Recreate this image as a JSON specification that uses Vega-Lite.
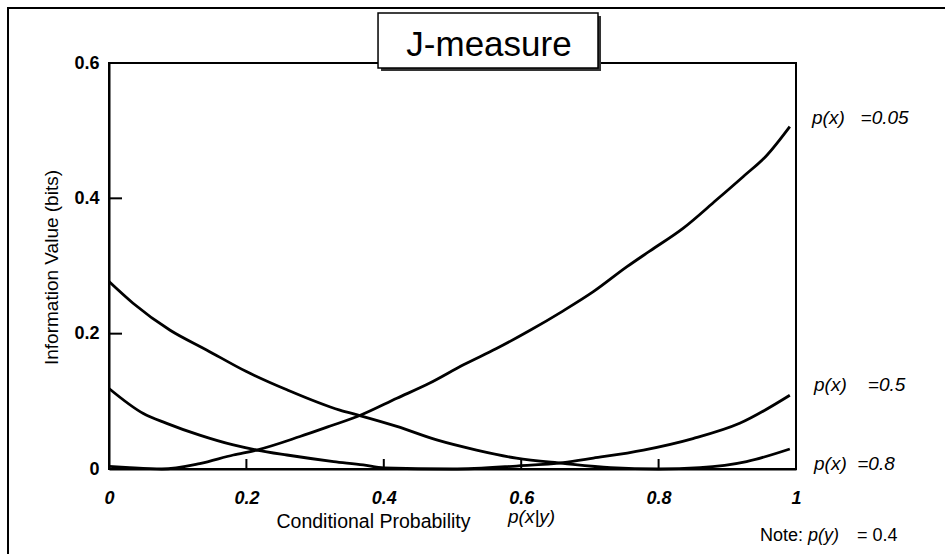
{
  "$schema": "https://vega.github.io/schema/vega-lite/v6.json",
  "width": 687,
  "height": 406,
  "autosize": {"type": "none"},
  "padding": {"left": 109, "top": 63, "right": 149, "bottom": 85},
  "background": "white",
  "config": {
    "view": {"stroke": "black", "strokeWidth": 2},
    "font": "Liberation Sans"
  },
  "datasets": {
    "curves": [
      {"px": "0.8", "pxy": 0, "j": 0.277},
      {"px": "0.8", "pxy": 0.035, "j": 0.245},
      {"px": "0.8", "pxy": 0.089, "j": 0.205},
      {"px": "0.8", "pxy": 0.142, "j": 0.176},
      {"px": "0.8", "pxy": 0.2, "j": 0.144},
      {"px": "0.8", "pxy": 0.259, "j": 0.117},
      {"px": "0.8", "pxy": 0.336, "j": 0.087},
      {"px": "0.8", "pxy": 0.365, "j": 0.079},
      {"px": "0.8", "pxy": 0.419, "j": 0.063},
      {"px": "0.8", "pxy": 0.477, "j": 0.043},
      {"px": "0.8", "pxy": 0.535, "j": 0.028},
      {"px": "0.8", "pxy": 0.593, "j": 0.016},
      {"px": "0.8", "pxy": 0.661, "j": 0.0084},
      {"px": "0.8", "pxy": 0.73, "j": 0.002},
      {"px": "0.8", "pxy": 0.8, "j": 0.0},
      {"px": "0.8", "pxy": 0.86, "j": 0.002},
      {"px": "0.8", "pxy": 0.928, "j": 0.011},
      {"px": "0.8", "pxy": 0.991, "j": 0.0296},
      {"px": "0.5", "pxy": 0, "j": 0.119},
      {"px": "0.5", "pxy": 0.05, "j": 0.082},
      {"px": "0.5", "pxy": 0.084, "j": 0.0675},
      {"px": "0.5", "pxy": 0.132, "j": 0.05},
      {"px": "0.5", "pxy": 0.181, "j": 0.0355},
      {"px": "0.5", "pxy": 0.215, "j": 0.028},
      {"px": "0.5", "pxy": 0.259, "j": 0.0207},
      {"px": "0.5", "pxy": 0.327, "j": 0.011},
      {"px": "0.5", "pxy": 0.37, "j": 0.006},
      {"px": "0.5", "pxy": 0.4, "j": 0.0015},
      {"px": "0.5", "pxy": 0.5, "j": 0.0},
      {"px": "0.5", "pxy": 0.593, "j": 0.0044},
      {"px": "0.5", "pxy": 0.661, "j": 0.0094},
      {"px": "0.5", "pxy": 0.705, "j": 0.016},
      {"px": "0.5", "pxy": 0.778, "j": 0.028},
      {"px": "0.5", "pxy": 0.85, "j": 0.045},
      {"px": "0.5", "pxy": 0.918, "j": 0.0675},
      {"px": "0.5", "pxy": 0.991, "j": 0.109},
      {"px": "0.05", "pxy": 0, "j": 0.004},
      {"px": "0.05", "pxy": 0.03, "j": 0.002},
      {"px": "0.05", "pxy": 0.077, "j": 0.0},
      {"px": "0.05", "pxy": 0.132, "j": 0.008},
      {"px": "0.05", "pxy": 0.181, "j": 0.0207},
      {"px": "0.05", "pxy": 0.215, "j": 0.028},
      {"px": "0.05", "pxy": 0.278, "j": 0.048},
      {"px": "0.05", "pxy": 0.322, "j": 0.0635},
      {"px": "0.05", "pxy": 0.365, "j": 0.079},
      {"px": "0.05", "pxy": 0.419, "j": 0.1045},
      {"px": "0.05", "pxy": 0.467, "j": 0.127},
      {"px": "0.05", "pxy": 0.516, "j": 0.154},
      {"px": "0.05", "pxy": 0.564, "j": 0.178},
      {"px": "0.05", "pxy": 0.613, "j": 0.205},
      {"px": "0.05", "pxy": 0.66, "j": 0.233},
      {"px": "0.05", "pxy": 0.705, "j": 0.262},
      {"px": "0.05", "pxy": 0.754, "j": 0.299},
      {"px": "0.05", "pxy": 0.787, "j": 0.322},
      {"px": "0.05", "pxy": 0.836, "j": 0.356},
      {"px": "0.05", "pxy": 0.884, "j": 0.3975},
      {"px": "0.05", "pxy": 0.923, "j": 0.432},
      {"px": "0.05", "pxy": 0.957, "j": 0.463},
      {"px": "0.05", "pxy": 0.991, "j": 0.506}
    ]
  },
  "layer": [
    {
      "data": {"values": [{}]},
      "mark": {"type": "rect", "fill": null, "stroke": "black", "strokeWidth": 2},
      "encoding": {
        "x": {"datum": -0.147, "type": "quantitative"},
        "x2": {"datum": 1.4},
        "y": {"datum": 0.6813, "type": "quantitative"},
        "y2": {"datum": -0.3}
      }
    },
    {
      "data": {"name": "curves"},
      "mark": {"type": "line", "color": "black", "strokeWidth": 2.8, "interpolate": "monotone"},
      "encoding": {
        "x": {
          "field": "pxy",
          "type": "quantitative",
          "scale": {"domain": [0, 1], "nice": false, "zero": false},
          "axis": {
            "values": [0, 0.2, 0.4, 0.6, 0.8, 1],
            "format": "~g",
            "grid": false,
            "ticks": false,
            "labelFlush": false,
            "labelOverlap": false,
            "domainColor": "black",
            "domainWidth": 2,
            "labelPadding": 20,
            "labelFont": "Liberation Sans",
            "labelFontSize": 18,
            "labelFontWeight": "bold",
            "labelFontStyle": "italic",
            "labelColor": "black",
            "title": "Conditional Probability",
            "titleFont": "Liberation Sans",
            "titleFontSize": 19.5,
            "titleFontWeight": "normal",
            "titleColor": "black",
            "titleX": 264,
            "titleY": 52,
            "titleBaseline": "middle"
          }
        },
        "y": {
          "field": "j",
          "type": "quantitative",
          "scale": {"domain": [0, 0.6], "nice": false, "zero": false},
          "axis": {
            "values": [0, 0.2, 0.4, 0.6],
            "format": "~g",
            "grid": false,
            "ticks": false,
            "labelFlush": false,
            "labelOverlap": false,
            "domainColor": "black",
            "domainWidth": 2,
            "labelPadding": 10,
            "labelFont": "Liberation Sans",
            "labelFontSize": 18,
            "labelFontWeight": "bold",
            "labelColor": "black",
            "title": "Information Value (bits)",
            "titleFont": "Liberation Sans",
            "titleFontSize": 19,
            "titleFontWeight": "normal",
            "titleColor": "black",
            "titleX": -58,
            "titleY": 204,
            "titleBaseline": "middle"
          }
        },
        "detail": {"field": "px", "type": "nominal"}
      }
    },
    {
      "data": {"values": [{"tx": 0.2}, {"tx": 0.4}, {"tx": 0.6}, {"tx": 0.8}]},
      "mark": {"type": "tick", "color": "black", "orient": "vertical", "size": 10, "thickness": 2, "yOffset": -5, "opacity": 1},
      "encoding": {
        "x": {"field": "tx", "type": "quantitative"},
        "y": {"datum": 0, "type": "quantitative"}
      }
    },
    {
      "data": {"values": [{"ty": 0.2}, {"ty": 0.4}]},
      "mark": {"type": "tick", "color": "black", "orient": "horizontal", "size": 13, "thickness": 2, "xOffset": 6.5, "opacity": 1},
      "encoding": {
        "y": {"field": "ty", "type": "quantitative"},
        "x": {"datum": 0, "type": "quantitative"}
      }
    },
    {
      "data": {"values": [{}]},
      "mark": {"type": "rect", "fill": "#333333", "xOffset": 3, "x2Offset": 3, "yOffset": 3, "y2Offset": 3},
      "encoding": {
        "x": {"datum": 0.3916, "type": "quantitative"},
        "x2": {"datum": 0.7118},
        "y": {"datum": 0.6739, "type": "quantitative"},
        "y2": {"datum": 0.5926}
      }
    },
    {
      "data": {"values": [{}]},
      "mark": {"type": "rect", "fill": "white", "stroke": "black", "strokeWidth": 1.5},
      "encoding": {
        "x": {"datum": 0.3916, "type": "quantitative"},
        "x2": {"datum": 0.7118},
        "y": {"datum": 0.6739, "type": "quantitative"},
        "y2": {"datum": 0.5926}
      }
    },
    {
      "data": {"values": [{"label": "J-measure"}]},
      "mark": {"type": "text", "font": "Liberation Sans", "fontSize": 35, "color": "black", "align": "center", "baseline": "middle"},
      "encoding": {
        "x": {"datum": 0.5531, "type": "quantitative"},
        "y": {"datum": 0.6266, "type": "quantitative"},
        "text": {"field": "label"}
      }
    },
    {
      "data": {"values": [{"label": "p(x)\u00a0\u00a0\u00a0=0.05"}]},
      "mark": {"type": "text", "font": "Liberation Sans", "fontSize": 19, "fontStyle": "italic", "color": "black", "align": "left", "baseline": "middle"},
      "encoding": {
        "x": {"datum": 1.0233, "type": "quantitative"},
        "y": {"datum": 0.5187, "type": "quantitative"},
        "text": {"field": "label"}
      }
    },
    {
      "data": {"values": [{"label": "p(x)\u00a0\u00a0\u00a0\u00a0=0.5"}]},
      "mark": {"type": "text", "font": "Liberation Sans", "fontSize": 19, "fontStyle": "italic", "color": "black", "align": "left", "baseline": "middle"},
      "encoding": {
        "x": {"datum": 1.0262, "type": "quantitative"},
        "y": {"datum": 0.1241, "type": "quantitative"},
        "text": {"field": "label"}
      }
    },
    {
      "data": {"values": [{"label": "p(x)\u00a0\u00a0=0.8"}]},
      "mark": {"type": "text", "font": "Liberation Sans", "fontSize": 19, "fontStyle": "italic", "color": "black", "align": "left", "baseline": "middle"},
      "encoding": {
        "x": {"datum": 1.0262, "type": "quantitative"},
        "y": {"datum": 0.0074, "type": "quantitative"},
        "text": {"field": "label"}
      }
    },
    {
      "data": {"values": [{"label": "p(x|y)"}]},
      "mark": {"type": "text", "font": "Liberation Sans", "fontSize": 19, "fontStyle": "italic", "color": "black", "align": "left", "baseline": "middle"},
      "encoding": {
        "x": {"datum": 0.5808, "type": "quantitative"},
        "y": {"datum": -0.0709, "type": "quantitative"},
        "text": {"field": "label"}
      }
    },
    {
      "data": {"values": [{"label": "Note:"}]},
      "mark": {"type": "text", "font": "Liberation Sans", "fontSize": 18, "color": "black", "align": "left", "baseline": "middle"},
      "encoding": {
        "x": {"datum": 0.9476, "type": "quantitative"},
        "y": {"datum": -0.099, "type": "quantitative"},
        "text": {"field": "label"}
      }
    },
    {
      "data": {"values": [{"label": "p(y)"}]},
      "mark": {"type": "text", "font": "Liberation Sans", "fontSize": 18, "fontStyle": "italic", "color": "black", "align": "left", "baseline": "middle"},
      "encoding": {
        "x": {"datum": 1.0175, "type": "quantitative"},
        "y": {"datum": -0.099, "type": "quantitative"},
        "text": {"field": "label"}
      }
    },
    {
      "data": {"values": [{"label": "= 0.4"}]},
      "mark": {"type": "text", "font": "Liberation Sans", "fontSize": 18, "color": "black", "align": "left", "baseline": "middle"},
      "encoding": {
        "x": {"datum": 1.0888, "type": "quantitative"},
        "y": {"datum": -0.099, "type": "quantitative"},
        "text": {"field": "label"}
      }
    }
  ]
}
